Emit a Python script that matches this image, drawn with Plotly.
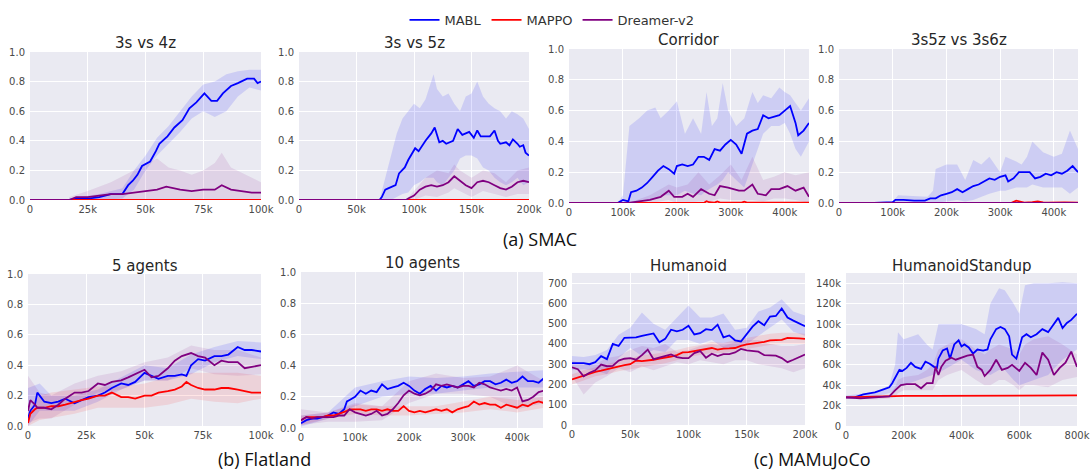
import plotly.graph_objects as go

# Figure fills the whole 1090x471 window (the page margin is removed below).
VW, VH, OFF = 1090, 471, 0
W, H = VW - OFF, VH - OFF
BLUE, RED, PURPLE = "#0000FF", "#FF0000", "#800080"
FILL = {BLUE: "rgba(0,0,255,0.12)", RED: "rgba(255,0,0,0.10)", PURPLE: "rgba(128,0,128,0.10)"}

# ---------------- Panel 1: 3s vs 4z (x in thousands of steps) ----------------
p1_mabl_x = [0, 17, 21, 25, 30, 35, 40, 42.5, 44.5, 46.5, 48.5, 52, 54.5, 56, 59.5, 62.5, 66, 69, 72, 75.5, 78.5, 81, 83.5, 87, 90, 94, 97, 98.5, 100]
p1_mabl = [0, 0, 0.01, 0.01, 0.02, 0.04, 0.04, 0.10, 0.13, 0.17, 0.23, 0.26, 0.33, 0.38, 0.43, 0.49, 0.54, 0.62, 0.66, 0.72, 0.67, 0.67, 0.72, 0.77, 0.79, 0.82, 0.82, 0.79, 0.80]
p1_mabl_bx = [17, 30, 40, 45, 50, 55, 60, 65, 70, 75, 80, 85, 90, 95, 100]
p1_mabl_hi = [0.01, 0.04, 0.08, 0.2, 0.3, 0.42, 0.5, 0.6, 0.7, 0.78, 0.8, 0.85, 0.87, 0.88, 0.88]
p1_mabl_lo = [0, 0, 0.01, 0.07, 0.2, 0.3, 0.38, 0.46, 0.55, 0.6, 0.56, 0.6, 0.7, 0.76, 0.74]
p1_dreamer_x = [0, 17, 20, 25, 30, 35, 40, 45, 50, 55, 59, 62, 65, 70, 75, 80, 83, 87, 92, 96, 100]
p1_dreamer = [0, 0, 0.02, 0.02, 0.03, 0.04, 0.04, 0.05, 0.06, 0.07, 0.09, 0.08, 0.07, 0.06, 0.07, 0.07, 0.10, 0.07, 0.06, 0.05, 0.05]
p1_dreamer_bx = [17, 25, 35, 45, 50, 55, 60, 65, 70, 75, 80, 83, 87, 92, 100]
p1_dreamer_hi = [0.02, 0.06, 0.12, 0.2, 0.24, 0.28, 0.22, 0.2, 0.17, 0.2, 0.25, 0.32, 0.22, 0.18, 0.12]
p1_dreamer_lo = [0, 0, 0, 0, 0, 0, 0, 0, 0, 0, 0, 0, 0, 0, 0]
p1_mappo_x = [0, 100]
p1_mappo = [0, 0]

# ---------------- Panel 2: 3s vs 5z ----------------
p2_mabl_x = [0, 70, 72, 75, 78, 81, 84, 87, 90, 92, 95, 97, 101, 104, 107, 110, 115, 118, 122, 125, 128, 131, 134, 138, 142, 145, 148, 152, 155, 158, 161, 166, 170, 173, 175, 180, 183, 186, 190, 192, 195, 197, 200]
p2_mabl = [0, 0, 0.02, 0.07, 0.08, 0.09, 0.10, 0.18, 0.2, 0.22, 0.27, 0.3, 0.35, 0.33, 0.37, 0.40, 0.45, 0.49, 0.39, 0.40, 0.38, 0.39, 0.40, 0.48, 0.44, 0.45, 0.46, 0.42, 0.47, 0.43, 0.43, 0.43, 0.47, 0.40, 0.38, 0.39, 0.37, 0.41, 0.38, 0.36, 0.37, 0.32, 0.30]
p2_mabl_bx = [70, 75, 80, 85, 90, 95, 100, 105, 110, 117, 120, 125, 130, 135, 140, 145, 150, 155, 160, 165, 170, 175, 180, 185, 190, 195, 200]
p2_mabl_hi = [0, 0.15, 0.3, 0.45, 0.55, 0.6, 0.65, 0.62, 0.68, 0.85, 0.75, 0.7, 0.72, 0.65, 0.6, 0.7, 0.72, 0.8, 0.7, 0.65, 0.62, 0.6, 0.55, 0.6, 0.58, 0.55, 0.48]
p2_mabl_lo = [0, 0, 0, 0.02, 0.04, 0.05, 0.1, 0.12, 0.15, 0.15, 0.12, 0.1, 0.15, 0.2, 0.28, 0.3, 0.3, 0.28, 0.22, 0.2, 0.15, 0.12, 0.1, 0.12, 0.15, 0.1, 0.12]
p2_dreamer_x = [0, 93, 95, 100, 105, 110, 115, 120, 125, 130, 135, 138, 140, 145, 150, 155, 160, 165, 170, 175, 180, 185, 190, 195, 200]
p2_dreamer = [0, 0, 0.01, 0.03, 0.07, 0.09, 0.10, 0.09, 0.10, 0.12, 0.16, 0.14, 0.13, 0.10, 0.08, 0.12, 0.13, 0.12, 0.10, 0.08, 0.07, 0.09, 0.12, 0.13, 0.12]
p2_dreamer_bx = [93, 100, 110, 120, 130, 135, 140, 150, 160, 170, 180, 190, 200]
p2_dreamer_hi = [0, 0.06, 0.15, 0.2, 0.18, 0.24, 0.2, 0.15, 0.2, 0.18, 0.12, 0.2, 0.22]
p2_dreamer_lo = [0, 0, 0.03, 0.02, 0.05, 0.08, 0.06, 0.02, 0.06, 0.04, 0.02, 0.04, 0.04]
p2_mappo_x = [0, 200]
p2_mappo = [0, 0]

# ---------------- Panel 3: Corridor ----------------
p3_mabl_x = [0, 90, 100, 110, 115, 125, 135, 145, 155, 165, 175, 185, 195, 200, 210, 220, 230, 240, 250, 260, 270, 280, 290, 300, 310, 320, 330, 340, 350, 360, 370, 380, 390, 400, 410, 420, 425, 435, 445]
p3_mabl = [0, 0, 0.02, 0.01, 0.07, 0.08, 0.10, 0.13, 0.17, 0.21, 0.24, 0.22, 0.19, 0.24, 0.25, 0.24, 0.25, 0.30, 0.30, 0.28, 0.35, 0.34, 0.38, 0.41, 0.38, 0.32, 0.45, 0.47, 0.48, 0.57, 0.55, 0.56, 0.57, 0.60, 0.63, 0.52, 0.44, 0.47, 0.52]
p3_mabl_bx = [90, 100, 112, 120, 130, 145, 160, 170, 185, 200, 215, 230, 245, 255, 265, 275, 285, 295, 310, 325, 340, 350, 360, 375, 390, 400, 410, 420, 430, 445]
p3_mabl_hi = [0, 0.05, 0.5, 0.52, 0.55, 0.6, 0.62, 0.55, 0.6, 0.66, 0.45, 0.55, 0.45, 0.72, 0.5, 0.55, 0.78, 0.6, 0.5, 0.55, 0.72, 0.65, 0.7, 0.68, 0.75, 0.72, 0.7, 0.65, 0.6, 0.68]
p3_mabl_lo = [0, 0, 0, 0, 0.01, 0.02, 0.03, 0.05, 0.05, 0.05, 0.08, 0.06, 0.05, 0.08, 0.1, 0.12, 0.15, 0.2, 0.15, 0.1, 0.25, 0.35, 0.45, 0.5, 0.5, 0.52, 0.45, 0.35, 0.3, 0.4]
p3_dreamer_x = [0, 110, 130, 150, 170, 185, 195, 210, 220, 230, 245, 260, 270, 280, 295, 305, 315, 325, 340, 350, 365, 375, 390, 405, 420, 435, 445]
p3_dreamer = [0, 0, 0.01, 0.02, 0.04, 0.08, 0.04, 0.04, 0.06, 0.04, 0.09, 0.06, 0.05, 0.11, 0.10, 0.09, 0.08, 0.08, 0.12, 0.06, 0.05, 0.09, 0.09, 0.11, 0.08, 0.10, 0.04]
p3_dreamer_bx = [110, 150, 185, 200, 220, 240, 260, 280, 300, 320, 340, 360, 380, 400, 420, 445]
p3_dreamer_hi = [0, 0.05, 0.12, 0.1, 0.12, 0.2, 0.12, 0.18, 0.25, 0.15, 0.3, 0.15, 0.17, 0.2, 0.18, 0.2]
p3_dreamer_lo = [0, 0, 0.02, 0, 0, 0.01, 0.01, 0.03, 0.02, 0.02, 0.02, 0.01, 0.03, 0.03, 0.02, 0.0]
p3_mappo_x = [0, 250, 255, 260, 270, 275, 280, 320, 325, 330, 445]
p3_mappo = [0, 0, 0.012, 0.005, 0.002, 0.01, 0.003, 0.002, 0.008, 0.002, 0.003]

# ---------------- Panel 4: 3s5z vs 3s6z ----------------
p4_mabl_x = [0, 65, 100, 105, 120, 140, 160, 170, 180, 190, 200, 210, 220, 230, 240, 250, 260, 270, 280, 290, 300, 310, 315, 325, 335, 345, 355, 365, 375, 385, 395, 405, 415, 425, 435, 445]
p4_mabl = [0, 0, 0.005, 0.02, 0.02, 0.015, 0.015, 0.03, 0.03, 0.05, 0.06, 0.07, 0.09, 0.07, 0.09, 0.11, 0.12, 0.14, 0.16, 0.15, 0.17, 0.18, 0.14, 0.16, 0.20, 0.20, 0.20, 0.16, 0.17, 0.19, 0.18, 0.20, 0.19, 0.21, 0.24, 0.20]
p4_mabl_bx = [65, 100, 110, 165, 175, 180, 200, 220, 235, 250, 265, 280, 300, 310, 330, 340, 350, 360, 380, 400, 415, 430, 445]
p4_mabl_hi = [0, 0.01, 0.05, 0.04, 0.08, 0.22, 0.25, 0.25, 0.15, 0.28, 0.25, 0.3, 0.2, 0.3, 0.27, 0.25, 0.3, 0.4, 0.33, 0.3, 0.32, 0.47, 0.35]
p4_mabl_lo = [0, 0, 0, 0, 0, 0, 0.01, 0.02, 0.01, 0.02, 0.04, 0.06, 0.08, 0.08, 0.1, 0.1, 0.1, 0.12, 0.1, 0.1, 0.1, 0.06, 0.1]
p4_mappo_x = [0, 320, 330, 335, 345, 360, 370, 380, 390, 420, 430, 445]
p4_mappo = [0, 0, 0.015, 0.01, 0.003, 0.005, 0.01, 0.004, 0.002, 0.004, 0.002, 0.003]
p4_dreamer_x = [0, 445]
p4_dreamer = [0, 0]

# ---------------- Panel 5: Flatland 5 agents ----------------
p5_x = [0, 1, 3, 4, 5, 7, 10, 13, 16, 20, 23, 26, 30, 33, 36, 40, 43, 46, 50, 53, 56, 60, 63, 66, 68, 70, 73, 76, 80, 83, 86, 90, 93, 96, 100]
p5_mabl = [0.05, 0.10, 0.14, 0.22, 0.20, 0.16, 0.15, 0.16, 0.18, 0.15, 0.17, 0.19, 0.20, 0.22, 0.25, 0.28, 0.27, 0.29, 0.35, 0.33, 0.31, 0.33, 0.33, 0.34, 0.33, 0.40, 0.44, 0.43, 0.46, 0.46, 0.47, 0.52, 0.50, 0.50, 0.49]
p5_dreamer = [0.10, 0.17, 0.14, 0.12, 0.12, 0.12, 0.11, 0.14, 0.18, 0.22, 0.22, 0.23, 0.28, 0.27, 0.29, 0.30, 0.32, 0.34, 0.37, 0.32, 0.33, 0.38, 0.43, 0.46, 0.47, 0.48, 0.46, 0.45, 0.40, 0.43, 0.42, 0.42, 0.38, 0.39, 0.40]
p5_mappo = [0.02, 0.08, 0.11, 0.12, 0.12, 0.12, 0.13, 0.13, 0.14, 0.16, 0.17, 0.18, 0.20, 0.20, 0.22, 0.19, 0.19, 0.18, 0.20, 0.20, 0.22, 0.23, 0.24, 0.26, 0.29, 0.27, 0.25, 0.24, 0.24, 0.25, 0.25, 0.24, 0.23, 0.22, 0.22]
p5_bx = [0, 5, 10, 20, 30, 40, 50, 60, 70, 80, 90, 100]
p5_mabl_hi = [0.25, 0.28, 0.2, 0.2, 0.24, 0.32, 0.4, 0.38, 0.47, 0.52, 0.56, 0.55]
p5_mabl_lo = [0, 0.1, 0.1, 0.1, 0.16, 0.24, 0.3, 0.3, 0.34, 0.42, 0.46, 0.44]
p5_dreamer_hi = [0.33, 0.22, 0.2, 0.28, 0.33, 0.36, 0.42, 0.45, 0.53, 0.5, 0.5, 0.45]
p5_dreamer_lo = [0.02, 0.05, 0.05, 0.14, 0.22, 0.24, 0.3, 0.3, 0.38, 0.34, 0.33, 0.34]
p5_mappo_hi = [0.1, 0.2, 0.22, 0.24, 0.26, 0.26, 0.28, 0.32, 0.35, 0.35, 0.35, 0.33]
p5_mappo_lo = [0, 0.04, 0.05, 0.08, 0.12, 0.12, 0.12, 0.14, 0.18, 0.16, 0.15, 0.18]

# ---------------- Panel 6: Flatland 10 agents ----------------
p6_x = [0, 10, 20, 30, 40, 50, 60, 70, 80, 85, 90, 100, 110, 120, 130, 140, 150, 160, 170, 180, 190, 200, 210, 220, 230, 240, 250, 260, 270, 280, 290, 300, 310, 320, 330, 340, 350, 360, 370, 380, 390, 400, 410, 420, 430, 440, 450]
p6_mabl = [0.03, 0.05, 0.06, 0.06, 0.07, 0.08, 0.10, 0.09, 0.12, 0.17, 0.18, 0.20, 0.24, 0.22, 0.24, 0.23, 0.28, 0.25, 0.26, 0.27, 0.29, 0.27, 0.24, 0.22, 0.25, 0.27, 0.24, 0.27, 0.26, 0.27, 0.26, 0.28, 0.30, 0.27, 0.28, 0.30, 0.30, 0.28, 0.29, 0.31, 0.29, 0.30, 0.33, 0.30, 0.30, 0.29, 0.32]
p6_dreamer = [0.05, 0.07, 0.06, 0.07, 0.07, 0.07, 0.07, 0.08, 0.08, 0.10, 0.12, 0.10, 0.09, 0.08, 0.09, 0.11, 0.08, 0.09, 0.12, 0.16, 0.21, 0.24, 0.22, 0.21, 0.22, 0.24, 0.28, 0.27, 0.28, 0.27, 0.26, 0.27, 0.27, 0.26, 0.29, 0.28, 0.26, 0.25, 0.24, 0.25, 0.24, 0.26, 0.17, 0.18, 0.20, 0.23, 0.24]
p6_mappo = [0.05, 0.07, 0.07, 0.07, 0.07, 0.08, 0.08, 0.09, 0.10, 0.11, 0.12, 0.12, 0.12, 0.11, 0.12, 0.12, 0.11, 0.12, 0.11, 0.11, 0.14, 0.11, 0.10, 0.11, 0.10, 0.11, 0.12, 0.11, 0.12, 0.10, 0.12, 0.13, 0.14, 0.17, 0.15, 0.16, 0.15, 0.15, 0.13, 0.15, 0.14, 0.13, 0.15, 0.14, 0.16, 0.17, 0.16]
p6_bx = [0, 50, 100, 150, 200, 250, 300, 350, 400, 450]
p6_mabl_hi = [0.08, 0.1, 0.26, 0.3, 0.33, 0.32, 0.33, 0.35, 0.36, 0.37]
p6_mabl_lo = [0.01, 0.06, 0.14, 0.2, 0.22, 0.22, 0.24, 0.26, 0.26, 0.26]
p6_dreamer_hi = [0.12, 0.1, 0.16, 0.14, 0.3, 0.35, 0.32, 0.33, 0.4, 0.3]
p6_dreamer_lo = [0.02, 0.04, 0.04, 0.05, 0.16, 0.22, 0.22, 0.2, 0.12, 0.16]
p6_mappo_hi = [0.08, 0.1, 0.15, 0.14, 0.14, 0.14, 0.17, 0.2, 0.18, 0.2]
p6_mappo_lo = [0.02, 0.06, 0.09, 0.08, 0.08, 0.09, 0.1, 0.12, 0.1, 0.13]

# ---------------- Panel 7: MAMuJoCo Humanoid ----------------
p7_x = [0, 5, 10, 15, 20, 25, 30, 35, 40, 45, 50, 55, 60, 65, 70, 75, 80, 85, 90, 95, 100, 105, 110, 115, 120, 125, 130, 135, 140, 145, 150, 155, 160, 165, 170, 175, 180, 185, 190, 195, 200]
p7_mabl = [305, 305, 305, 300, 310, 340, 325, 400, 390, 430, 430, 432, 440, 445, 452, 408, 425, 470, 462, 470, 490, 447, 453, 473, 468, 495, 432, 442, 418, 412, 447, 485, 512, 492, 535, 538, 575, 530, 515, 500, 487]
p7_mappo = [225, 235, 245, 255, 262, 268, 275, 283, 290, 295, 300, 318, 315, 318, 322, 328, 332, 338, 345, 358, 360, 365, 368, 372, 380, 372, 377, 378, 380, 390, 398, 402, 405, 410, 418, 420, 420, 430, 430, 427, 425]
p7_dreamer = [285, 275, 240, 258, 270, 298, 290, 292, 318, 327, 330, 322, 345, 372, 325, 332, 342, 348, 335, 330, 330, 355, 365, 332, 352, 340, 350, 350, 358, 375, 368, 365, 362, 345, 342, 342, 330, 310, 322, 335, 348]
p7_bx = [0, 10, 20, 30, 40, 50, 60, 70, 80, 90, 100, 110, 120, 130, 140, 150, 160, 170, 180, 190, 200]
p7_mabl_hi = [340, 335, 345, 370, 445, 480, 555, 500, 470, 530, 590, 530, 530, 550, 470, 480, 560, 580, 620, 560, 540]
p7_mabl_lo = [270, 275, 270, 250, 330, 380, 340, 370, 360, 420, 420, 400, 420, 380, 380, 400, 440, 480, 520, 460, 440]
p7_mappo_hi = [250, 270, 285, 300, 315, 330, 345, 350, 360, 370, 385, 395, 410, 405, 420, 430, 440, 450, 455, 455, 450]
p7_mappo_lo = [200, 220, 240, 250, 265, 275, 285, 295, 305, 320, 335, 345, 355, 355, 365, 375, 385, 395, 400, 400, 400]
p7_dreamer_hi = [320, 300, 300, 330, 340, 370, 390, 380, 400, 360, 370, 390, 400, 390, 410, 420, 420, 400, 390, 390, 400]
p7_dreamer_lo = [240, 150, 210, 240, 280, 260, 290, 270, 290, 310, 300, 320, 310, 300, 320, 320, 300, 290, 280, 260, 280]

# ---------------- Panel 8: MAMuJoCo HumanoidStandup (y in thousands) ----------------
p8_mabl_x = [0, 30, 60, 100, 130, 150, 160, 175, 185, 195, 210, 225, 240, 260, 275, 290, 305, 315, 320, 335, 350, 360, 375, 390, 400, 410, 425, 440, 455, 475, 490, 500, 520, 535, 550, 565, 575, 590, 610, 625, 640, 660, 680, 700, 720, 735, 750, 765, 780, 800]
p8_mabl = [28, 28, 31, 33, 36, 38, 42, 50, 55, 54, 57, 62, 58, 56, 63, 61, 58, 57, 66, 74, 76, 66, 80, 84, 78, 80, 77, 71, 75, 74, 75, 85, 95, 97, 95, 88, 70, 66, 87, 90, 87, 90, 95, 92, 100, 106, 96, 101, 104, 110]
p8_mabl_bx = [0, 100, 150, 170, 180, 200, 250, 280, 300, 320, 350, 400, 450, 480, 500, 530, 550, 580, 600, 620, 650, 700, 750, 800]
p8_mabl_hi = [30, 33, 40, 60, 92, 85, 90, 80, 75, 100, 100, 100, 95, 90, 120, 135, 133, 120, 110, 138, 140, 140, 141, 140]
p8_mabl_lo = [27, 29, 32, 35, 38, 40, 45, 48, 50, 52, 57, 65, 55, 52, 50, 55, 55, 45, 40, 42, 45, 50, 65, 75]
p8_dreamer_x = [0, 50, 100, 150, 170, 190, 210, 240, 260, 280, 300, 310, 320, 330, 345, 365, 380, 400, 420, 440, 455, 470, 480, 500, 520, 540, 560, 575, 590, 600, 620, 640, 660, 680, 700, 720, 740, 760, 780, 800]
p8_dreamer = [28, 27, 28, 29, 35, 40, 41, 41, 37, 42, 42, 58, 50, 58, 64, 67, 65, 67, 69, 70, 58, 55, 49, 55, 65, 55, 57, 60, 56, 54, 62, 57, 50, 72, 65, 50, 57, 62, 73, 58]
p8_dreamer_hi = [29, 30, 31, 38, 45, 48, 50, 55, 60, 75, 80, 85, 75, 70, 75, 80, 78, 75, 70, 80, 85, 88, 80, 70]
p8_dreamer_lo = [27, 26, 27, 28, 32, 35, 35, 35, 35, 45, 50, 55, 45, 40, 40, 45, 45, 40, 35, 40, 40, 38, 45, 48]
p8_mappo_x = [0, 100, 200, 300, 400, 500, 600, 700, 800]
p8_mappo = [28, 29, 29.5, 29.5, 29.5, 29.8, 30, 30, 30]

# ---------------- tick labels ----------------
frac_ticks = [0, 0.2, 0.4, 0.6, 0.8, 1.0]
frac_text = ["0.0", "0.2", "0.4", "0.6", "0.8", "1.0"]
x100_ticks, x100_text = [0, 25, 50, 75, 100], ["0", "25k", "50k", "75k", "100k"]
x200_ticks, x200_text = [0, 50, 100, 150, 200], ["0", "50k", "100k", "150k", "200k"]
x400_ticks, x400_text = [0, 100, 200, 300, 400], ["0", "100k", "200k", "300k", "400k"]
x800_ticks, x800_text = [0, 200, 400, 600, 800], ["0", "200k", "400k", "600k", "800k"]
hum_ticks = [0, 100, 200, 300, 400, 500, 600, 700]
hum_text = ["0", "100", "200", "300", "400", "500", "600", "700"]
std_ticks = [0, 20, 40, 60, 80, 100, 120, 140]
std_text = ["0", "20k", "40k", "60k", "80k", "100k", "120k", "140k"]


def fx(p):
    return (p - OFF) / W


def fy(p):
    return 1 - (p - OFF) / H


# Panel layout (window pixel boxes: left, right, top, bottom)
panels = [
    dict(title="3s vs 4z", box=(30, 261, 52, 200), ty=43, xr=[0, 100], xt=(x100_ticks, x100_text), yr=[0, 1], yt=(frac_ticks, frac_text),
         series=[("MABL", BLUE, p1_mabl_x, p1_mabl, p1_mabl_bx, p1_mabl_hi, p1_mabl_lo),
                 ("MAPPO", RED, p1_mappo_x, p1_mappo, None, None, None),
                 ("Dreamer-v2", PURPLE, p1_dreamer_x, p1_dreamer, p1_dreamer_bx, p1_dreamer_hi, p1_dreamer_lo)]),
    dict(title="3s vs 5z", box=(299, 529, 52, 200), ty=43, xr=[0, 200], xt=(x200_ticks, x200_text), yr=[0, 1], yt=(frac_ticks, frac_text),
         series=[("MABL", BLUE, p2_mabl_x, p2_mabl, p2_mabl_bx, p2_mabl_hi, p2_mabl_lo),
                 ("MAPPO", RED, p2_mappo_x, p2_mappo, None, None, None),
                 ("Dreamer-v2", PURPLE, p2_dreamer_x, p2_dreamer, p2_dreamer_bx, p2_dreamer_hi, p2_dreamer_lo)]),
    dict(title="Corridor", box=(569, 809, 49, 203), ty=40, xr=[0, 445], xt=(x400_ticks, x400_text), yr=[0, 1], yt=(frac_ticks, frac_text),
         series=[("MABL", BLUE, p3_mabl_x, p3_mabl, p3_mabl_bx, p3_mabl_hi, p3_mabl_lo),
                 ("MAPPO", RED, p3_mappo_x, p3_mappo, None, None, None),
                 ("Dreamer-v2", PURPLE, p3_dreamer_x, p3_dreamer, p3_dreamer_bx, p3_dreamer_hi, p3_dreamer_lo)]),
    dict(title="3s5z vs 3s6z", box=(839, 1078, 49, 203), ty=40, xr=[0, 445], xt=(x400_ticks, x400_text), yr=[0, 1], yt=(frac_ticks, frac_text),
         series=[("MABL", BLUE, p4_mabl_x, p4_mabl, p4_mabl_bx, p4_mabl_hi, p4_mabl_lo),
                 ("MAPPO", RED, p4_mappo_x, p4_mappo, None, None, None),
                 ("Dreamer-v2", PURPLE, p4_dreamer_x, p4_dreamer, None, None, None)]),
    dict(title="5 agents", box=(28, 261, 274, 426), ty=266, xr=[0, 100], xt=(x100_ticks, x100_text), yr=[0, 1], yt=(frac_ticks, frac_text),
         series=[("MABL", BLUE, p5_x, p5_mabl, p5_bx, p5_mabl_hi, p5_mabl_lo),
                 ("MAPPO", RED, p5_x, p5_mappo, p5_bx, p5_mappo_hi, p5_mappo_lo),
                 ("Dreamer-v2", PURPLE, p5_x, p5_dreamer, p5_bx, p5_dreamer_hi, p5_dreamer_lo)]),
    dict(title="10 agents", box=(301, 543, 272, 428), ty=263, xr=[0, 448], xt=(x400_ticks, x400_text), yr=[0, 1], yt=(frac_ticks, frac_text),
         series=[("MABL", BLUE, p6_x, p6_mabl, p6_bx, p6_mabl_hi, p6_mabl_lo),
                 ("MAPPO", RED, p6_x, p6_mappo, p6_bx, p6_mappo_hi, p6_mappo_lo),
                 ("Dreamer-v2", PURPLE, p6_x, p6_dreamer, p6_bx, p6_dreamer_hi, p6_dreamer_lo)]),
    dict(title="Humanoid", box=(572, 805, 273, 425), ty=266, xr=[0, 200], xt=(x200_ticks, x200_text), yr=[0, 750], yt=(hum_ticks, hum_text),
         series=[("MABL", BLUE, p7_x, p7_mabl, p7_bx, p7_mabl_hi, p7_mabl_lo),
                 ("MAPPO", RED, p7_x, p7_mappo, p7_bx, p7_mappo_hi, p7_mappo_lo),
                 ("Dreamer-v2", PURPLE, p7_x, p7_dreamer, p7_bx, p7_dreamer_hi, p7_dreamer_lo)]),
    dict(title="HumanoidStandup", box=(846, 1077, 273, 426), ty=266, xr=[0, 800], xt=(x800_ticks, x800_text), yr=[0, 150], yt=(std_ticks, std_text),
         series=[("MABL", BLUE, p8_mabl_x, p8_mabl, p8_mabl_bx, p8_mabl_hi, p8_mabl_lo),
                 ("MAPPO", RED, p8_mappo_x, p8_mappo, None, None, None),
                 ("Dreamer-v2", PURPLE, p8_dreamer_x, p8_dreamer, p8_mabl_bx, p8_dreamer_hi, p8_dreamer_lo)]),
]

TICKFONT = dict(family="DejaVu Sans", size=10, color="#4a4a4a")

fig = go.Figure()
layout = dict(width=W, height=H, margin=dict(l=0, r=0, t=0, b=0, autoexpand=False),
              paper_bgcolor="white", plot_bgcolor="#EAEAF2", annotations=[])

for i, p in enumerate(panels, start=1):
    xa = "x" if i == 1 else f"x{i}"
    ya = "y" if i == 1 else f"y{i}"
    l, r, t, b = p["box"]
    layout["xaxis" if i == 1 else f"xaxis{i}"] = dict(
        domain=[fx(l), fx(r)], anchor=ya, range=p["xr"], tickvals=p["xt"][0], ticktext=p["xt"][1],
        showgrid=True, gridcolor="white", gridwidth=1, zeroline=False, showline=False, ticks="",
        tickfont=TICKFONT, ticklabelstandoff=2, automargin=False, ticklabeloverflow="allow")
    layout["yaxis" if i == 1 else f"yaxis{i}"] = dict(
        domain=[fy(b), fy(t)], anchor=xa, range=p["yr"], tickvals=p["yt"][0], ticktext=p["yt"][1],
        showgrid=True, gridcolor="white", gridwidth=1, zeroline=False, showline=False, ticks="",
        tickfont=TICKFONT, ticklabelstandoff=4, automargin=False, ticklabeloverflow="allow")
    # bands first
    for name, col, x, y, bx, hi, lo in p["series"]:
        if bx is not None:
            fig.add_trace(go.Scatter(x=bx + bx[::-1], y=hi + lo[::-1], xaxis=xa, yaxis=ya, fill="toself",
                                     fillcolor=FILL[col], line=dict(width=0), mode="lines",
                                     hoverinfo="skip", showlegend=False))
    for name, col, x, y, bx, hi, lo in p["series"]:
        fig.add_trace(go.Scatter(x=x, y=y, xaxis=xa, yaxis=ya, mode="lines", name=name,
                                 line=dict(color=col, width=1.8), showlegend=(i == 1),
                                 legendrank={"MABL": 1, "MAPPO": 2, "Dreamer-v2": 3}[name]))
    layout["annotations"].append(dict(text=p["title"], x=fx((l + r) / 2), y=fy(p["ty"]), xref="paper", yref="paper",
                                      xanchor="center", yanchor="middle", showarrow=False,
                                      font=dict(family="DejaVu Sans", size=15, color="#262626")))

captions = [("(a) SMAC", 540, 239), ("(b) Flatland", 264, 459), ("(c) MAMuJoCo", 812, 459)]
for text, cx, cy in captions:
    layout["annotations"].append(dict(text=text, x=fx(cx), y=fy(cy), xref="paper", yref="paper",
                                      xanchor="center", yanchor="middle", showarrow=False,
                                      font=dict(family="Open Sans", size=18, color="#111111")))

layout["legend"] = dict(orientation="h", x=fx(552), xanchor="center", y=fy(5), yanchor="top",
                        font=dict(family="DejaVu Sans", size=13, color="#333333"), bgcolor="rgba(0,0,0,0)",
                        traceorder="normal", itemwidth=30)
fig.update_layout(**layout)
fig.write_html("out.html", config={"displayModeBar": False},
               post_script="document.body.style.margin='0';document.body.style.overflow='hidden';")
